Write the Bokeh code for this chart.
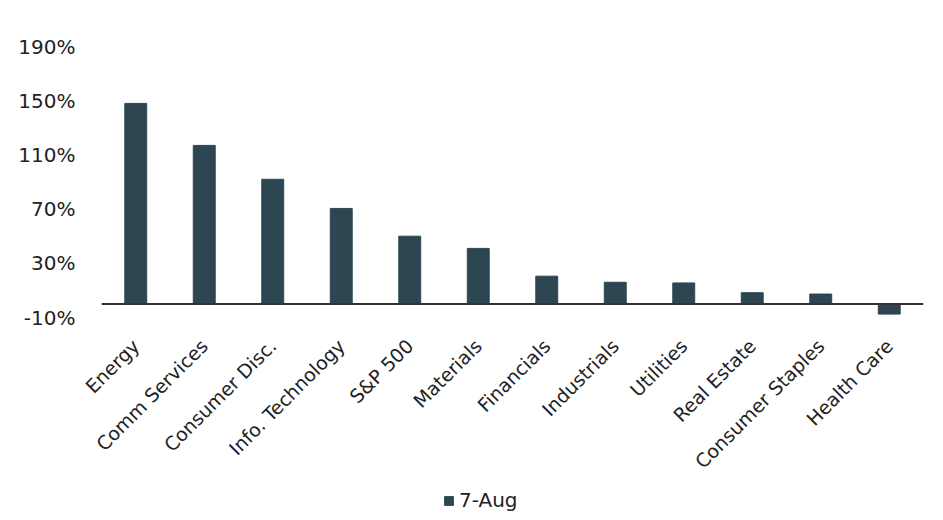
from bokeh.plotting import figure
from bokeh.layouts import column
from bokeh.models import (ColumnDataSource, FixedTicker, PrintfTickFormatter,
                          Span, Legend, LegendItem, Range1d)
from bokeh.embed import file_html
from bokeh.resources import INLINE
import math

categories = ["Energy", "Comm Services", "Consumer Disc.", "Info. Technology",
              "S&P 500", "Materials", "Financials", "Industrials", "Utilities",
              "Real Estate", "Consumer Staples", "Health Care"]
values_aug7 = [148, 117, 92, 70.5, 50, 41, 20.5, 16, 15.5, 8.3, 7.3, -7.5]
y_ticks = [-10, 30, 70, 110, 150, 190]
series_name = "7-Aug"

FONT = "DejaVu Sans"
BAR = "#2e4652"
TXT = "#222222"

src = ColumnDataSource(data=dict(cat=categories, val=values_aug7))

p = figure(x_range=categories, y_range=(-10, 190), width=927, height=488,
           output_backend="svg", toolbar_location=None,
           min_border_left=101, min_border_right=4, min_border_top=46,
           min_border_bottom=171)
p.outline_line_color = None
p.xgrid.grid_line_color = None
p.ygrid.grid_line_color = None
p.x_range.range_padding = 0

p.vbar(x="cat", top="val", bottom=0, width=0.32, source=src,
       fill_color=BAR, line_color=BAR)

zero = Span(location=0, dimension="width", line_color="#333333", line_width=2)
p.add_layout(zero)

p.yaxis.ticker = FixedTicker(ticks=y_ticks)
p.yaxis.formatter = PrintfTickFormatter(format="%d%%")
p.yaxis.axis_line_color = None
p.yaxis.major_tick_line_color = None
p.yaxis.minor_tick_line_color = None
p.yaxis.major_label_standoff = 20
p.yaxis.major_label_text_font = FONT
p.yaxis.major_label_text_font_size = "20px"
p.yaxis.major_label_text_color = TXT

p.xaxis.axis_line_color = None
p.xaxis.major_tick_line_color = None
p.xaxis.minor_tick_line_color = None
p.xaxis.major_label_orientation = math.pi / 4
p.xaxis.major_label_standoff = 19
p.xaxis.major_label_text_font = FONT
p.xaxis.major_label_text_font_size = "19px"
p.xaxis.major_label_text_color = TXT

# legend strip: same series, rendered outside its visible range so only the
# legend entry shows
lg = figure(x_range=categories, y_range=Range1d(500, 600), width=927, height=24,
            output_backend="svg", toolbar_location=None,
            x_axis_type=None, y_axis_type=None,
            min_border_left=0, min_border_right=0, min_border_top=0,
            min_border_bottom=0)
lg.outline_line_color = None
lg.xgrid.grid_line_color = None
lg.ygrid.grid_line_color = None
lr = lg.vbar(x="cat", top="val", bottom=0, width=0.32, source=src,
             fill_color=BAR, line_color=BAR)

legend = Legend(items=[LegendItem(label=series_name, renderers=[lr])],
                location=(342, 0), orientation="horizontal",
                border_line_color=None, background_fill_alpha=0,
                padding=0, margin=0, glyph_width=11, glyph_height=11,
                label_standoff=5, label_text_font=FONT,
                label_text_font_size="20px", label_text_color=TXT)
lg.add_layout(legend, "center")

layout = column(p, lg, spacing=0)
open("out.html", "w").write(file_html(layout, INLINE))
